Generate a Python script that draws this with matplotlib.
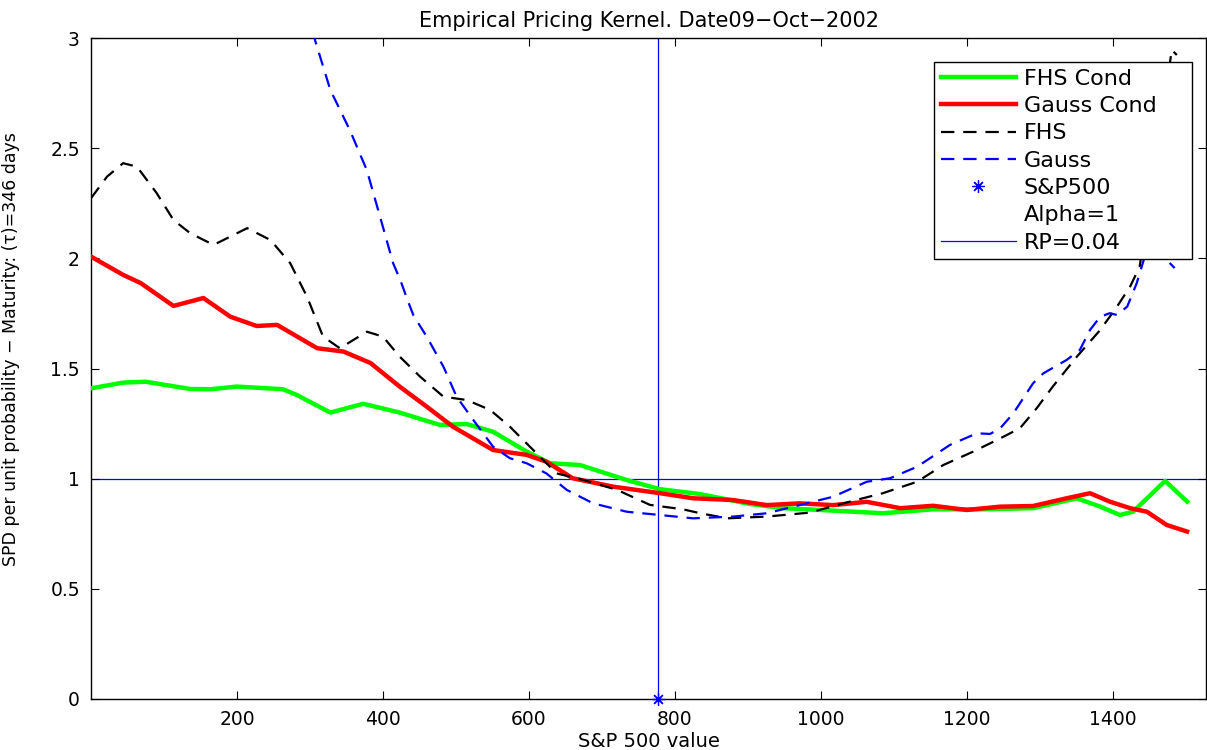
import matplotlib
matplotlib.use("Agg")
import matplotlib.pyplot as plt
from matplotlib.lines import Line2D

# ---------------- data ----------------
fhs_cond_x = [0, 44, 75, 136, 164, 200, 263, 282, 328, 373, 423, 478, 515, 551,
              597, 629, 670, 734, 780, 835, 903, 949, 1017, 1085, 1154, 1222,
              1291, 1351, 1383, 1410, 1428, 1472, 1502]
fhs_cond_y = [1.41, 1.436, 1.44, 1.407, 1.406, 1.418, 1.406, 1.38, 1.30, 1.34,
              1.30, 1.244, 1.248, 1.213, 1.123, 1.07, 1.062, 0.994, 0.952, 0.93,
              0.885, 0.866, 0.855, 0.843, 0.861, 0.861, 0.866, 0.911, 0.873,
              0.835, 0.85, 0.99, 0.896]

gauss_cond_x = [0, 44, 68, 113, 154, 191, 227, 255, 310, 346, 383, 423, 460, 496,
                551, 597, 624, 660, 715, 780, 825, 880, 926, 971, 1017, 1063,
                1109, 1154, 1200, 1246, 1291, 1337, 1369, 1396, 1424, 1447, 1474,
                1502]
gauss_cond_y = [2.008, 1.925, 1.888, 1.784, 1.82, 1.735, 1.693, 1.698, 1.592,
                1.577, 1.525, 1.418, 1.327, 1.236, 1.13, 1.108, 1.077, 1.002,
                0.964, 0.934, 0.911, 0.903, 0.88, 0.888, 0.88, 0.895, 0.866,
                0.877, 0.858, 0.873, 0.876, 0.911, 0.934, 0.896, 0.866, 0.85,
                0.79, 0.76]

fhs_x = [0, 22, 44, 63, 90, 113, 136, 168, 191, 214, 246, 273, 296, 318, 341,
         378, 400, 423, 451, 483, 515, 547, 574, 606, 638, 675, 721, 766, 811,
         835, 872, 926, 985, 1040, 1085, 1132, 1168, 1209, 1246, 1273, 1296,
         1318, 1351, 1383, 1406, 1424, 1437, 1460, 1481, 1488]
fhs_y = [2.273, 2.371, 2.432, 2.416, 2.296, 2.174, 2.114, 2.061, 2.099, 2.137,
         2.083, 1.978, 1.826, 1.645, 1.592, 1.667, 1.645, 1.554, 1.463, 1.372,
         1.357, 1.312, 1.236, 1.13, 1.024, 0.994, 0.949, 0.881, 0.861, 0.843,
         0.82, 0.828, 0.846, 0.896, 0.934, 0.986, 1.062, 1.123, 1.183, 1.229,
         1.32, 1.418, 1.554, 1.675, 1.781, 1.872, 1.962, 2.45, 2.946, 2.923]

gauss_x = [300, 307, 328, 355, 378, 396, 414, 424, 435, 442, 460, 483, 501, 524,
           551, 574, 597, 624, 652, 688, 734, 780, 825, 880, 926, 971, 1017,
           1063, 1095, 1132, 1177, 1214, 1232, 1246, 1264, 1291, 1305, 1337,
           1355, 1369, 1383, 1396, 1406, 1420, 1433, 1444, 1461, 1474, 1485]
gauss_y = [3.13, 2.99, 2.764, 2.58, 2.40, 2.19, 1.978, 1.90, 1.80, 1.74, 1.645,
           1.508, 1.372, 1.266, 1.145, 1.093, 1.07, 1.024, 0.949, 0.888, 0.85,
           0.835, 0.82, 0.828, 0.843, 0.88, 0.918, 0.986, 1.002, 1.054, 1.153,
           1.206, 1.203, 1.229, 1.297, 1.433, 1.478, 1.539, 1.584, 1.675,
           1.735, 1.751, 1.743, 1.781, 1.887, 2.008, 2.1, 1.993, 1.956]

sp500 = 776.76
rp_level = 1.0

x_ticks = [200, 400, 600, 800, 1000, 1200, 1400]
y_ticks = [0, 0.5, 1, 1.5, 2, 2.5, 3]
y_tick_labels = ["0", "0.5", "1", "1.5", "2", "2.5", "3"]

labels = ["FHS Cond", "Gauss Cond", "FHS", "Gauss", "S&P500", "Alpha=1", "RP=0.04"]

# ---------------- figure ----------------
plt.rcParams['font.family'] = ['DejaVu Sans']
fig = plt.figure(figsize=(12.07, 7.5), dpi=100)
ax = fig.add_axes([0.0754, 0.068, 0.9238, 0.8813])

blue = (0, 0, 1)
ax.axhline(rp_level, color=blue, lw=0.9, zorder=1)
ax.axvline(sp500, color=blue, lw=0.9, zorder=1)

dash = (6, 4)
l1, = ax.plot(fhs_cond_x, fhs_cond_y, color=(0, 1, 0), lw=3.2, zorder=3)
l2, = ax.plot(gauss_cond_x, gauss_cond_y, color=(1, 0, 0), lw=3.2, zorder=4)
l3, = ax.plot(fhs_x, fhs_y, color='k', lw=1.6, dashes=dash, zorder=5)
l4, = ax.plot(gauss_x, gauss_y, color=blue, lw=1.6, dashes=dash, zorder=6)
l5, = ax.plot([sp500], [0], linestyle='none', marker=(8, 2, 0), markersize=9,
              markeredgewidth=0.9, color=blue, zorder=7, clip_on=False)
l6 = Line2D([], [], linestyle='none', marker=None)
l7 = Line2D([], [], color=blue, lw=0.9)

ax.set_xlim(0, 1528)
ax.set_ylim(0, 3)
ax.set_xticks(x_ticks)
ax.set_xticklabels([str(t) for t in x_ticks])
ax.set_yticks(y_ticks)
ax.set_yticklabels(y_tick_labels)
ax.tick_params(direction='in', length=6, width=0.8, top=True, right=True,
               labelsize=13.5, pad=8)
for s in ax.spines.values():
    s.set_linewidth(1.0)

ax.set_title("Empirical Pricing Kernel. Date09\u2212Oct\u22122002", fontsize=15, pad=8)
ax.set_xlabel("S&P 500 value", fontsize=14, labelpad=2)
ax.set_ylabel("SPD per unit probability \u2212 Maturity: (\u03c4)=346 days", fontsize=12.5)
ax.yaxis.set_label_coords(-0.064, 0.53)

leg = ax.legend([l1, l2, l3, l4, l5, l6, l7], labels, loc='upper left',
                bbox_to_anchor=(0.756, 0.0, 0.2314, 0.9637), mode='expand',
                fontsize=16, frameon=True,
                fancybox=False, edgecolor='k', framealpha=1.0, handlelength=3.4,
                handletextpad=0.35, labelspacing=0.33, borderpad=0.3,
                borderaxespad=0.0)
leg.get_frame().set_linewidth(1.0)
leg.set_zorder(10)

fig.savefig("out.png", dpi=100)
